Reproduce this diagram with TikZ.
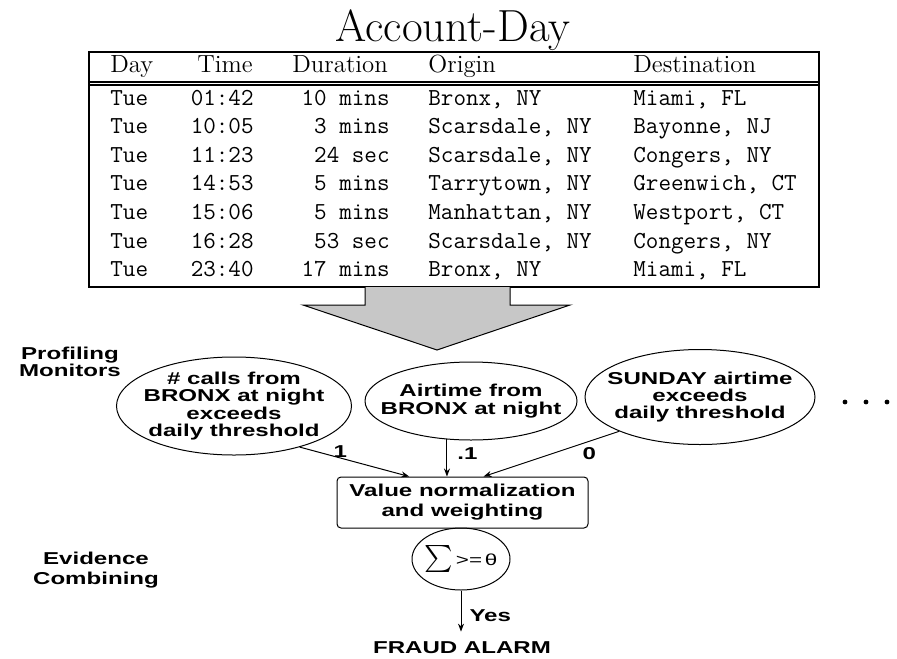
\documentclass[tikz,border=0pt]{standalone}
\usepackage{fontspec}
\usepackage{graphicx}
\newfontfamily\labelfont[FakeStretch=1.4]{Liberation Sans}
\usetikzlibrary{arrows.meta,shapes.geometric}

\tikzset{
  lbl/.style={font=\labelfont\bfseries\fontsize{8.6}{8.6}\selectfont, inner sep=0pt},
  monitor/.style={lbl, ellipse, draw, align=center, line width=0.5pt, inner xsep=-8pt, inner ysep=0pt},
  wire/.style={-{Stealth[length=4pt,width=3pt]}, line width=0.5pt},
  head/.style={font=\fontsize{12.4}{14}\selectfont, anchor=base west, inner sep=0pt},
  cell/.style={font=\ttfamily\fontsize{12.2}{14}\selectfont, inner sep=0pt},
}

\begin{document}
\begin{tikzpicture}[x=0.5pt,y=-0.5pt]
\useasboundingbox (0,0) rectangle (897,658);
% call table of the account
\node[anchor=base, inner sep=0pt, font=\fontsize{22.5}{26}\selectfont] (title) at (453,42) {Account-Day};
\draw[line width=0.7pt] (89,52) rectangle (819,287);
\draw[line width=0.6pt] (89,82) -- (819,82) (89,85) -- (819,85);
\node[head] (hday) at (110,73) {Day};
\node[head] (htime) at (197,73) {Time};
\node[head] (hdur) at (292,73) {Duration};
\node[head] (horg) at (428,73) {Origin};
\node[head] (hdst) at (633,73) {Destination};
\foreach \dy/\tm/\dur/\org/\dst [count=\i] in {
  Tue/01:42/10 mins/{Bronx, NY}/{Miami, FL},
  Tue/10:05/3 mins/{Scarsdale, NY}/{Bayonne, NJ},
  Tue/11:23/24 sec/{Scarsdale, NY}/{Congers, NY},
  Tue/14:53/5 mins/{Tarrytown, NY}/{Greenwich, CT},
  Tue/15:06/5 mins/{Manhattan, NY}/{Westport, CT},
  Tue/16:28/53 sec/{Scarsdale, NY}/{Congers, NY},
  Tue/23:40/17 mins/{Bronx, NY}/{Miami, FL}}{
  \node[cell, anchor=base west] (day\i) at (110,{105+28.6*(\i-1)}) {\dy};
  \node[cell, anchor=base east] (time\i) at (254,{105+28.6*(\i-1)}) {\tm};
  \node[cell, anchor=base east] (dur\i) at (390,{105+28.6*(\i-1)}) {\dur};
  \node[cell, anchor=base west] (org\i) at (428,{105+28.6*(\i-1)}) {\org};
  \node[cell, anchor=base west] (dst\i) at (633,{105+28.6*(\i-1)}) {\dst};
}
% wide arrow down to the monitors
\draw[fill=black!22, line width=0.5pt] (365,287) -- (365,305) -- (303,305) -- (437,350)
  -- (570,305) -- (510,305) -- (510,287);
% profiling monitors
\node[lbl, align=center] (prof) at (70,362) {Profiling\\Monitors};
\node[monitor, minimum width=117.5pt, minimum height=49pt] (calls) at (234,406)
  {\# calls from\\BRONX at night\\exceeds\\daily threshold};
\node[monitor, minimum width=106pt, minimum height=39pt] (air) at (471,401)
  {Airtime from\\BRONX at night};
\node[monitor, minimum width=115pt, minimum height=47.5pt] (sunday) at (700,397)
  {SUNDAY airtime\\exceeds\\daily threshold};
\fill (845,402) circle (1.2pt) (866,402) circle (1.2pt) (887,402) circle (1.2pt);
% evidence combining
\node[lbl, draw, rounded corners=2pt, align=center, line width=0.5pt,
  minimum width=125.5pt, minimum height=25.5pt] (norm) at (462.5,502.5)
  {Value normalization\\[1.4pt]and weighting};
\node[draw, ellipse, line width=0.5pt, inner xsep=-4pt, inner ysep=0pt,
  minimum width=49pt, minimum height=31pt] (sum) at (461,559)
  {\scalebox{1.35}{$\sum$}{\labelfont\fontsize{8}{8}\selectfont\,>=\,θ}};
\node[lbl, align=center] (evid) at (96,570) {Evidence\\[1.5pt]Combining};
\node[lbl] (alarm) at (462,648) {FRAUD ALARM};
\draw[wire] (calls.-32) -- node[lbl, pos=0.37, above] (w1) {1} (norm.154);
\draw[wire] (air.-122) -- node[lbl, pos=0.37, right=5pt] (w2) {.1} (air.-122 |- norm.north);
\draw[wire] (sunday.-157) -- node[lbl, pos=0.22, below=3pt] (w3) {0} (norm.51);
\draw[wire, shorten >=5pt] (sum.south) -- node[lbl, right=4pt] (yes) {Yes} (sum.south |- alarm.north);
\end{tikzpicture}
\end{document}
